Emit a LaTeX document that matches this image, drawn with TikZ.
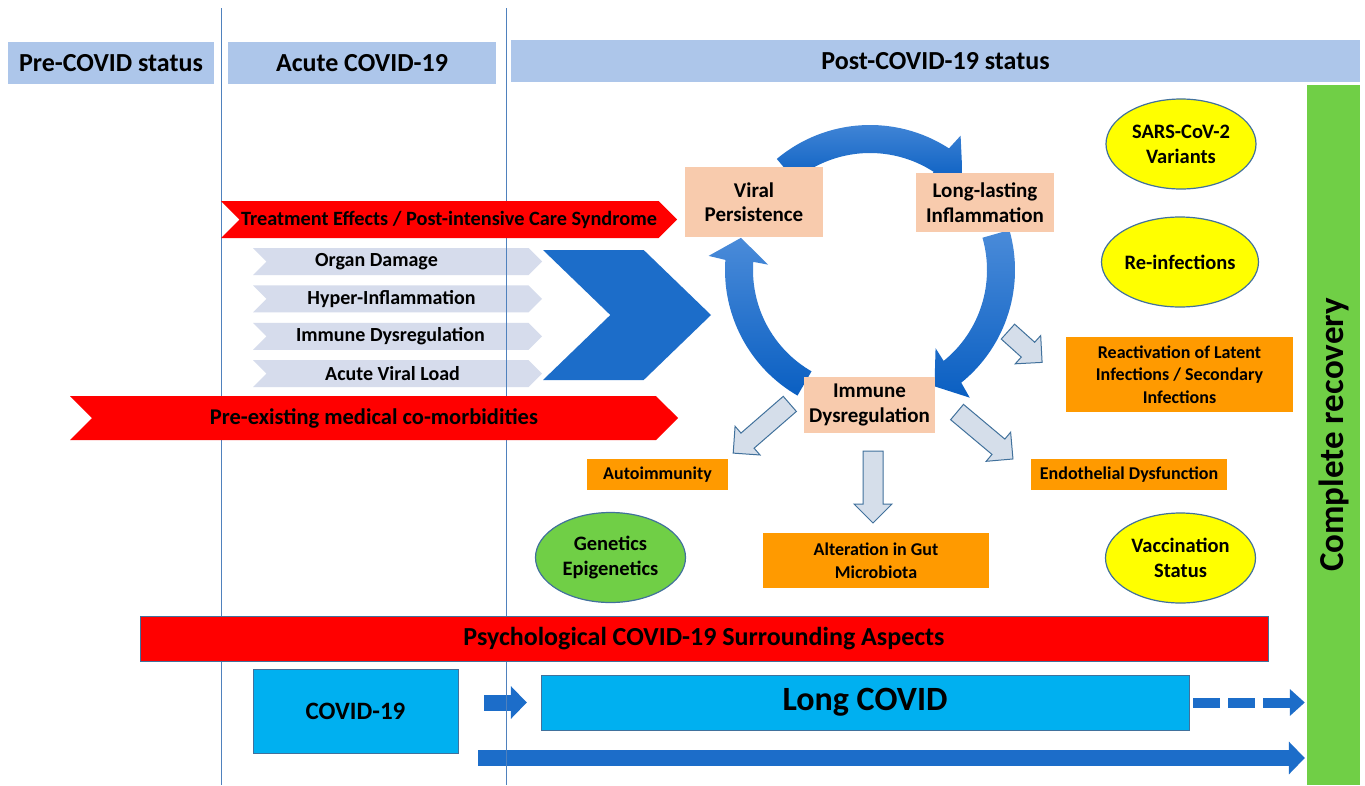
\documentclass[tikz,border=0pt]{standalone}
\usepackage{fontspec}
\setmainfont{Carlito}
\usepackage{tikz}
\usetikzlibrary{arrows.meta,calc,positioning,shapes.arrows,shapes.geometric,shapes.symbols}

\definecolor{hdrblue}{HTML}{ADC6EA}
\definecolor{sepblue}{HTML}{4F81BD}
\definecolor{arrred}{HTML}{FF0000}
\definecolor{chevgray}{HTML}{D6DCEC}
\definecolor{darkblue}{HTML}{1C6DC9}
\definecolor{peach}{HTML}{F8CBAD}
\definecolor{boxorange}{HTML}{FF9A00}
\definecolor{ellyellow}{HTML}{FFFF00}
\definecolor{leafgreen}{HTML}{70CF46}
\definecolor{skyblue}{HTML}{00B0F0}
\definecolor{paleblue}{HTML}{D5DEEA}
\definecolor{rimblue}{HTML}{41719C}
\definecolor{cyclight}{HTML}{4A8BD9}
\definecolor{cycdark}{HTML}{0A5FC2}

% circular arrow: start angle, head base angle, tip angle
\newcommand\bigarc[3]{%
  \shade[top color=cyclight,bottom color=cycdark]
    (#1:145pt) arc[start angle=#1,end angle=#2,radius=145pt]
    -- ({#2-1}:162pt) -- (#3:133pt) -- ({#2+1}:102pt)
    -- (#2:117pt) arc[start angle=#2,end angle=#1,radius=117pt] -- cycle;}

% hollow block arrow: centre, direction, length
\newcommand\hollowarrow[3]{%
  \begin{scope}[shift={#1},rotate=#2]
    \draw[hollow] ({-#3/2},-10) -- ({#3/2-19},-10) -- ({#3/2-19},-19) -- ({#3/2},0)
      -- ({#3/2-19},19) -- ({#3/2-19},10) -- ({-#3/2},10) -- cycle;
  \end{scope}}

\begin{document}
\begin{tikzpicture}[x=1pt,y=-1pt,node distance=10pt,font=\bfseries,
    hdr/.style={fill=hdrblue,minimum height=42pt,inner sep=0pt,font=\bfseries\fontsize{26}{30}\selectfont},
    ribbon/.style={signal,signal from=west,signal to=east,signal pointer angle=90,inner sep=0pt},
    redribbon/.style={ribbon,fill=arrred,font=\bfseries\fontsize{20.3}{24}\selectfont},
    chev/.style={ribbon,fill=chevgray,minimum width=289pt,minimum height=27pt,font=\bfseries\fontsize{20}{24}\selectfont},
    cycbox/.style={fill=peach,align=center,inner sep=0pt,font=\bfseries\fontsize{21}{24.5}\selectfont},
    effect/.style={fill=boxorange,align=center,inner sep=0pt,font=\bfseries\fontsize{18}{22.5}\selectfont},
    factor/.style={ellipse,draw=rimblue,line width=1.2pt,fill=ellyellow,minimum width=150pt,minimum height=90pt,inner sep=0pt,align=center,font=\bfseries\fontsize{20.5}{25}\selectfont},
    hollow/.style={draw=rimblue,line width=1pt,fill=paleblue},
    stage/.style={draw=rimblue,fill=skyblue,inner sep=0pt},
    fatarrow/.style={draw=darkblue,line width=16pt,-{Triangle[width=32pt,length=16pt]}},
    divider/.style={draw=sepblue,line width=1pt}]
\fill[white] (0,0) rectangle (1365,785);
\useasboundingbox (0,0) rectangle (1365,785);

% stage headers
\node[hdr,minimum width=206pt] (pre) at (111,63) {Pre-COVID status};
\node[hdr,minimum width=268pt] (acute) at (362,63) {Acute COVID-19};
\node[hdr,minimum width=849pt] (post) at (935.5,61) {Post-COVID-19 status};
\node[fill=leafgreen,minimum width=53pt,minimum height=700pt,inner sep=0pt] (recovery) at (1333.5,435) {};
\node[rotate=90,font=\bfseries\fontsize{35}{40}\selectfont] (recoverytext) at (recovery.center) {Complete recovery};

% vicious circle
\begin{scope}[shift={(870,270)}]
  \bigarc{130}{57}{46}
  \bigarc{16}{-51}{-61}
  \bigarc{240}{176}{166}
\end{scope}
\node[cycbox,minimum width=138pt,minimum height=70pt] (viral) at (754,202) {Viral\\Persistence};
\node[cycbox,minimum width=138pt,minimum height=59pt] (inflam) at (985,202.5) {Long-lasting\\Inflammation};
\node[cycbox,minimum width=131pt,minimum height=56pt] (immune) at (869.5,405) {Immune\\Dysregulation};

% acute phase drivers
\node[chev] (organ) at (397.5,261.5) {Organ Damage\hspace*{42pt}};
\node[chev,below=of organ] (hyper) {Hyper-Inflammation\hspace*{12pt}};
\node[chev,below=of hyper] (dysreg) {Immune Dysregulation\hspace*{14pt}};
\node[chev,below=of dysreg] (load) {Acute Viral Load\hspace*{10pt}};
\node[ribbon,fill=darkblue,minimum width=168pt,minimum height=130pt,signal pointer angle=88] (push) at (627,315) {};

% consequences
\hollowarrow{(761.5,428.5)}{-139}{75}
\hollowarrow{(873,487)}{-90}{72}
\hollowarrow{(985,435.5)}{-40}{73}
\hollowarrow{(1025,347)}{-42}{46}
\node[effect,minimum width=227pt,minimum height=75pt] (react) at (1179.5,374.5) {Reactivation of Latent\\Infections / Secondary\\Infections};
\node[effect,minimum width=141pt,minimum height=31pt] (autoimm) at (657.5,474.5) {Autoimmunity};
\node[effect,minimum width=196pt,minimum height=31pt] (endo) at (1129,474.5) {Endothelial Dysfunction};
\node[effect,minimum width=226pt,minimum height=55pt] (gut) at (876,560.5) {Alteration in Gut\\Microbiota};
\node[factor] (variants) at (1181,144) {SARS-CoV-2\\Variants};
\node[factor] (reinf) at (1180,262) {Re-infections};
\node[factor] (vacc) at (1180.5,558) {Vaccination\\Status};
\node[factor,fill=leafgreen] (genetics) at (610.5,557.5) {Genetics\\Epigenetics};

% timeline
\node[stage,minimum width=205pt,minimum height=84pt,font=\bfseries\fontsize{25}{30}\selectfont] (covid) at (355.5,711) {COVID-19};
\node[stage,minimum width=648pt,minimum height=55pt,font=\bfseries\fontsize{34}{40}\selectfont] (longcovid) at (865,702.5) {Long COVID};
\coordinate (timeline) at (478,758);
\draw[fatarrow,shorten <=26pt,shorten >=14pt] (covid.east |- longcovid.west) -- (longcovid.west);
\draw[fatarrow,line width=10pt,dash pattern=on 27pt off 8pt,shorten <=4pt,shorten >=2pt,-{Triangle[width=26pt,length=15pt]}] (longcovid.east) -- (recovery.west |- longcovid.east);
\draw[fatarrow,shorten >=2pt] (timeline) -- (recovery.west |- timeline);

\draw[divider] (221,8) -- (221,785);
\draw[divider] (506,8) -- (506,785);

% red ribbons
\node[redribbon,minimum width=456pt,minimum height=37pt] (treat) at (449,219.5) {Treatment Effects / Post-intensive Care Syndrome};
\node[redribbon,minimum width=608pt,minimum height=44pt,font=\bfseries\fontsize{22.5}{26}\selectfont] (comorb) at (374,418) {Pre-existing medical co-morbidities};
\node[draw=rimblue,fill=arrred,minimum width=1128pt,minimum height=45pt,inner sep=0pt,font=\bfseries\fontsize{26}{30}\selectfont] (psych) at (704,638.5) {Psychological COVID-19 Surrounding Aspects};
\end{tikzpicture}
\end{document}
